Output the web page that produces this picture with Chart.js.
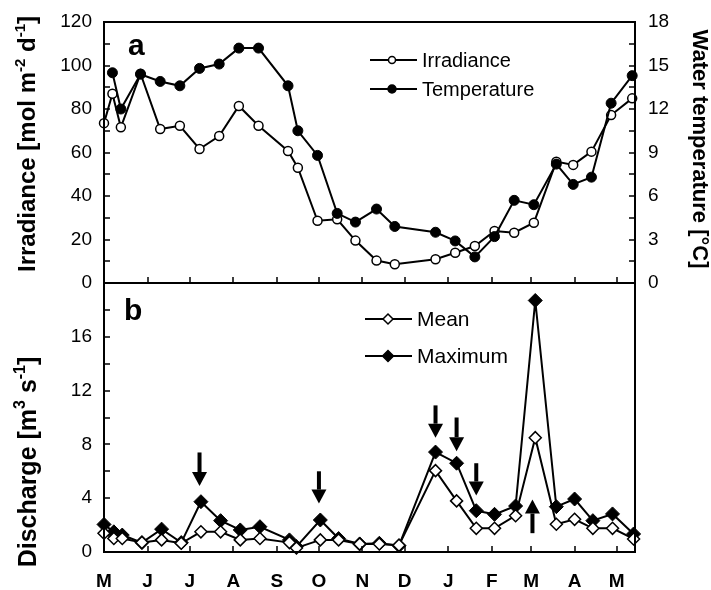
<!DOCTYPE html>
<html>
<head>
<meta charset="utf-8">
<script src="https://cdn.jsdelivr.net/npm/chart.js@4/dist/chart.umd.min.js"></script>
<style>
  body { margin: 0; background: #fff; }
  #wrap { position: relative; width: 711px; height: 590px; }
  canvas { position: absolute; left: 0; }
  #topChart { top: 0; }
  #bottomChart { top: 270px; }
</style>
</head>
<body>
<div id="wrap">
  <canvas id="topChart" width="711" height="300"></canvas>
  <canvas id="bottomChart" width="711" height="320"></canvas>
</div>
<script>
// x is days since 1 May
const monthDays = [0, 31, 61, 92, 123, 153, 184, 214, 245, 276, 304, 335, 365];
const monthLabels = ['M', 'J', 'J', 'A', 'S', 'O', 'N', 'D', 'J', 'F', 'M', 'A', 'M'];

// panel a
const irrDays = [0, 6, 12, 26, 40, 54, 68, 82, 96, 110, 131, 138, 152, 166, 179, 194, 207, 236, 250, 264, 278, 292, 306, 322, 334, 347, 361, 376];
const irradiance = [73.5, 87, 71.6, 96.2, 70.8, 72.3, 61.6, 67.6, 81.4, 72.3, 60.7, 53.0, 28.6, 29.3, 19.5, 10.3, 8.6, 10.9, 13.9, 17.0, 23.9, 23.1, 27.7, 55.8, 54.3, 60.4, 77.2, 84.9];
const tempDays = [6, 12, 26, 40, 54, 68, 82, 96, 110, 131, 138, 152, 166, 179, 194, 207, 236, 250, 264, 278, 292, 306, 322, 334, 347, 361, 376];
const temperature = [14.5, 12.0, 14.4, 13.9, 13.6, 14.8, 15.1, 16.2, 16.2, 13.6, 10.5, 8.8, 4.8, 4.2, 5.1, 3.9, 3.5, 2.9, 1.8, 3.2, 5.7, 5.4, 8.2, 6.8, 7.3, 12.4, 14.3];

// panel b
const dischDays = [0, 7, 13, 27, 41, 55, 69, 83, 97, 111, 132, 137, 154, 167, 182, 196, 210, 236, 251, 265, 278, 293, 307, 322, 335, 348, 362, 377];
const dischMean = [1.4, 1.0, 1.0, 0.7, 0.9, 0.65, 1.5, 1.5, 0.9, 1.0, 0.7, 0.3, 0.9, 0.9, 0.6, 0.6, 0.5, 6.05, 3.8, 1.76, 1.76, 2.7, 8.5, 2.06, 2.43, 1.76, 1.76, 0.97];
const dischMax = [2.05, 1.5, 1.26, 0.7, 1.7, 0.7, 3.74, 2.33, 1.64, 1.88, 0.9, 0.4, 2.38, 1.0, 0.6, 0.65, 0.47, 7.43, 6.6, 3.07, 2.8, 3.42, 18.7, 3.37, 3.94, 2.33, 2.83, 1.34];

// flood arrows (day, tip value, tail value)
const arrowDays = [68, 153, 236, 251, 265, 305];
const arrowTips = [4.9, 3.6, 8.5, 7.5, 4.2, 3.9];
const arrowTails = [7.4, 6.0, 10.9, 10.0, 6.6, 1.4];

const FONT = '"Liberation Sans", Arial, sans-serif';
Chart.defaults.font.family = FONT;
Chart.defaults.color = '#000';

function pts(days, vals) {
  return days.map((d, i) => ({ x: d, y: vals[i] }));
}

// text with superscripts, centred on x,y and rotated
function richText(ctx, parts, x, y, rot, size) {
  ctx.save();
  ctx.translate(x, y);
  ctx.rotate(rot);
  ctx.fillStyle = '#000';
  ctx.textBaseline = 'alphabetic';
  let w = 0;
  parts.forEach(p => {
    ctx.font = 'bold ' + (p.sup ? Math.round(size * 0.62) : size) + 'px ' + FONT;
    w += ctx.measureText(p.t).width;
  });
  let cx = -w / 2;
  parts.forEach(p => {
    ctx.font = 'bold ' + (p.sup ? Math.round(size * 0.62) : size) + 'px ' + FONT;
    ctx.fillText(p.t, cx, p.sup ? size * 0.35 - size * 0.42 : size * 0.35);
    cx += ctx.measureText(p.t).width;
  });
  ctx.restore();
}

// box round the plot and inward tick marks
function drawFrame(chart, yAxes) {
  const ctx = chart.ctx, a = chart.chartArea;
  ctx.save();
  ctx.strokeStyle = '#000';
  ctx.lineWidth = 2;
  ctx.strokeRect(a.left, a.top, a.right - a.left, a.bottom - a.top);
  ctx.lineWidth = 1.5;
  ctx.beginPath();
  const xs = chart.scales.x;
  monthDays.forEach(d => {
    if (d === 0) return;
    const px = Math.round(xs.getPixelForValue(d));
    ctx.moveTo(px, a.bottom);
    ctx.lineTo(px, a.bottom - 6);
  });
  yAxes.forEach(ax => {
    const s = chart.scales[ax.id];
    for (let v = ax.step; v < s.max - 0.001; v += ax.step) {
      const py = Math.round(s.getPixelForValue(v));
      if (ax.right) { ctx.moveTo(a.right, py); ctx.lineTo(a.right - 6, py); }
      else { ctx.moveTo(a.left, py); ctx.lineTo(a.left + 6, py); }
    }
  });
  ctx.stroke();
  ctx.restore();
}

function marker(ctx, style, x, y, r, filled) {
  ctx.beginPath();
  if (style === 'circle') ctx.arc(x, y, r, 0, Math.PI * 2);
  else { ctx.moveTo(x - r, y); ctx.lineTo(x, y - r); ctx.lineTo(x + r, y); ctx.lineTo(x, y + r); ctx.closePath(); }
  ctx.fillStyle = filled ? '#000' : '#fff';
  ctx.fill();
  ctx.lineWidth = 1.5;
  ctx.stroke();
}

function legendRow(ctx, y, x0, x1, mx, style, r, filled, label, size, tx) {
  ctx.save();
  ctx.strokeStyle = '#000';
  ctx.lineWidth = 2;
  ctx.beginPath();
  ctx.moveTo(x0, y);
  ctx.lineTo(x1, y);
  ctx.stroke();
  marker(ctx, style, mx, y, r, filled);
  ctx.fillStyle = '#000';
  ctx.font = size + 'px ' + FONT;
  ctx.textBaseline = 'middle';
  ctx.fillText(label, tx, y + 1);
  ctx.restore();
}

// no label overhang, so the plot box sits exactly where the padding puts it
const noPad = s => { s.paddingTop = 0; s.paddingBottom = 0; s.paddingLeft = 0; s.paddingRight = 0; };

const xScale = (show) => ({
  type: 'linear',
  min: 0,
  max: 378,
  display: show,
  grid: { display: false, drawTicks: false },
  border: { display: false },
  afterBuildTicks: s => { s.ticks = monthDays.map(v => ({ value: v })); },
  afterFit: s => { s.height = show ? 38 : 0; noPad(s); },
  ticks: {
    autoSkip: false,
    maxRotation: 0,
    padding: 18,
    font: { size: 19, weight: 'bold' },
    callback: (v, i) => monthLabels[i]
  }
});

const topChart = new Chart(document.getElementById('topChart'), {
  type: 'line',
  data: {
    datasets: [
      {
        label: 'Temperature',
        data: pts(tempDays, temperature),
        yAxisID: 'yT',
        borderColor: '#000',
        borderWidth: 2,
        pointStyle: 'circle',
        pointRadius: 5,
        pointBackgroundColor: '#000',
        pointBorderColor: '#000',
        pointBorderWidth: 1,
        tension: 0,
        clip: false
      },
      {
        label: 'Irradiance',
        data: pts(irrDays, irradiance),
        yAxisID: 'y',
        borderColor: '#000',
        borderWidth: 2,
        pointStyle: 'circle',
        pointRadius: 4.5,
        pointBackgroundColor: '#fff',
        pointBorderColor: '#000',
        pointBorderWidth: 1.5,
        tension: 0,
        clip: false
      }
    ]
  },
  options: {
    responsive: false,
    animation: false,
    devicePixelRatio: 1,
    events: [],
    layout: { padding: { top: 22, bottom: 17, left: 0, right: 0 } },
    plugins: { legend: { display: false }, tooltip: { enabled: false } },
    scales: {
      x: xScale(false),
      y: {
        position: 'left',
        min: 0, max: 120,
        grid: { display: false, drawTicks: false },
        border: { display: false },
        afterFit: s => { s.width = 104; noPad(s); },
        ticks: { stepSize: 20, padding: 12, font: { size: 19 } }
      },
      yT: {
        position: 'right',
        min: 0, max: 18,
        grid: { display: false, drawTicks: false },
        border: { display: false },
        afterFit: s => { s.width = 76; noPad(s); },
        ticks: { stepSize: 3, padding: 13, font: { size: 19 } }
      }
    }
  },
  plugins: [{
    id: 'panelA',
    afterDraw(chart) {
      const ctx = chart.ctx;
      drawFrame(chart, [{ id: 'y', step: 10 }, { id: 'yT', step: 1.5, right: true }]);
      ctx.save();
      ctx.fillStyle = '#000';
      ctx.font = 'bold 30px ' + FONT;
      ctx.fillText('a', 128, 55);
      ctx.restore();
      legendRow(ctx, 60, 370, 417, 392, 'circle', 3.5, false, 'Irradiance', 20, 422);
      legendRow(ctx, 89, 370, 417, 392, 'circle', 4, true, 'Temperature', 20, 422);
      richText(ctx, [{ t: 'Irradiance [mol m' }, { t: '-2', sup: true }, { t: ' d' }, { t: '-1', sup: true }, { t: ']' }], 27, 144, -Math.PI / 2, 24);
      richText(ctx, [{ t: 'Water temperature [°C]' }], 701, 149, Math.PI / 2, 22);
    }
  }]
});

const bottomChart = new Chart(document.getElementById('bottomChart'), {
  type: 'line',
  data: {
    datasets: [
      {
        label: 'Mean',
        data: pts(dischDays, dischMean),
        borderColor: '#000',
        borderWidth: 2,
        pointStyle: 'rectRot',
        pointRadius: 6,
        pointBackgroundColor: '#fff',
        pointBorderColor: '#000',
        pointBorderWidth: 1.5,
        tension: 0,
        clip: false
      },
      {
        label: 'Maximum',
        data: pts(dischDays, dischMax),
        borderColor: '#000',
        borderWidth: 2,
        pointStyle: 'rectRot',
        pointRadius: 7,
        pointBackgroundColor: '#000',
        pointBorderColor: '#000',
        pointBorderWidth: 1,
        tension: 0,
        clip: false
      }
    ]
  },
  options: {
    responsive: false,
    animation: false,
    devicePixelRatio: 1,
    events: [],
    layout: { padding: { top: 13, bottom: 0, left: 0, right: 76 } },
    plugins: { legend: { display: false }, tooltip: { enabled: false } },
    scales: {
      x: xScale(true),
      y: {
        position: 'left',
        min: 0, max: 20,
        grid: { display: false, drawTicks: false },
        border: { display: false },
        afterFit: s => { s.width = 104; noPad(s); },
        ticks: {
          stepSize: 4, padding: 12, font: { size: 19 },
          callback: v => (v >= 20 ? '' : v)
        }
      }
    }
  },
  plugins: [{
    id: 'panelB',
    afterDraw(chart) {
      const ctx = chart.ctx;
      const xs = chart.scales.x, ys = chart.scales.y;
      drawFrame(chart, [{ id: 'y', step: 2 }]);
      // arrows
      ctx.save();
      ctx.fillStyle = '#000';
      arrowDays.forEach((d, i) => {
        const x = xs.getPixelForValue(d);
        const tip = ys.getPixelForValue(arrowTips[i]);
        const tail = ys.getPixelForValue(arrowTails[i]);
        const dir = tip > tail ? 1 : -1;
        const head = 14, hw = 7.5;
        const base = tip - dir * head;
        ctx.fillRect(x - 2, Math.min(tail, base), 4, Math.abs(base - tail));
        ctx.beginPath();
        ctx.moveTo(x, tip);
        ctx.lineTo(x - hw, base);
        ctx.lineTo(x + hw, base);
        ctx.closePath();
        ctx.fill();
      });
      ctx.font = 'bold 30px ' + FONT;
      ctx.fillText('b', 124, 50);
      ctx.restore();
      legendRow(ctx, 49, 365, 412, 388, 'diamond', 5, false, 'Mean', 21, 417);
      legendRow(ctx, 86, 365, 412, 388, 'diamond', 5.5, true, 'Maximum', 21, 417);
      richText(ctx, [{ t: 'Discharge [m' }, { t: '3', sup: true }, { t: ' s' }, { t: '-1', sup: true }, { t: ']' }], 27, 192, -Math.PI / 2, 25);
    }
  }]
});
</script>
</body>
</html>
